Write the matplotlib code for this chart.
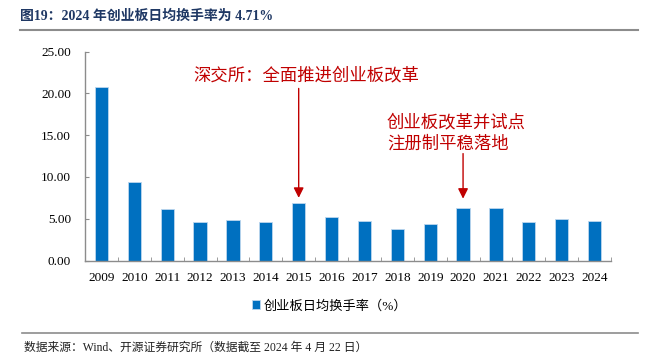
import matplotlib
matplotlib.use("Agg")
import matplotlib.pyplot as plt
from matplotlib.lines import Line2D

years = ["2009", "2010", "2011", "2012", "2013", "2014", "2015", "2016",
         "2017", "2018", "2019", "2020", "2021", "2022", "2023", "2024"]
turnover = [20.80, 9.44, 6.16, 4.56, 4.84, 4.64, 6.92, 5.18,
            4.76, 3.80, 4.32, 6.24, 6.32, 4.64, 4.92, 4.71]
yticks = [0, 5, 10, 15, 20, 25]
series_name = "创业板日均换手率（%）"
title = "图19：2024 年创业板日均换手率为 4.71%"
note1 = "深交所：全面推进创业板改革"
note2 = "创业板改革并试点\n注册制平稳落地"
source = "数据来源：Wind、开源证券研究所（数据截至 2024 年 4 月 22 日）"

FONT = ["Liberation Serif", "Noto Sans CJK SC"]
plt.rcParams["font.family"] = FONT

W, H = 654, 362
fig = plt.figure(figsize=(W / 100, H / 100), dpi=100)

def fx(px):
    return px / W

def fy(py):
    return 1 - py / H

ax = fig.add_axes([fx(85), fy(260.5), fx(611) - fx(85), fy(51.7) - fy(260.5)])

x = list(range(len(years)))
ax.bar(x, turnover, width=0.4, color="#0070C0", edgecolor="#BDD7EE",
       linewidth=0.6, label=series_name, zorder=2)

ax.set_xlim(-0.5, len(years) - 0.5)
ax.set_ylim(0, 25)
ax.set_yticks(yticks)
ax.set_yticklabels([f"{v:.2f}" for v in yticks], fontsize=9.5)
ax.set_xticks(x)
ax.set_xticklabels(years, fontsize=9.5)
ax.set_xticks([i - 0.5 for i in range(len(years) + 1)], minor=True)

for s in ["top", "right"]:
    ax.spines[s].set_visible(False)
for s in ["left", "bottom"]:
    ax.spines[s].set_color("#8C8C8C")
    ax.spines[s].set_linewidth(1.0)

ax.tick_params(axis="y", direction="in", length=3, color="#8C8C8C", pad=10)
ax.tick_params(axis="x", which="major", length=0, pad=8)
ax.tick_params(axis="x", which="minor", direction="in", length=3, color="#8C8C8C")

red = "#C00000"
ax.annotate("", xy=(6, 7.5), xytext=(6, 20.6),
            arrowprops=dict(arrowstyle="-|>,head_length=0.6,head_width=0.3",
                            color=red, lw=1.0, shrinkA=0, shrinkB=0))
ax.annotate("", xy=(11, 7.4), xytext=(11, 12.8),
            arrowprops=dict(arrowstyle="-|>,head_length=0.6,head_width=0.3",
                            color=red, lw=1.0, shrinkA=0, shrinkB=0))

fig.text(fx(193), fy(75), note1, color=red, fontsize=12.5, va="center", ha="left",
         family=["Noto Sans CJK SC"])
fig.text(fx(387), fy(133), note2, color=red, fontsize=12.5, va="center", ha="left",
         family=["Noto Sans CJK SC"], linespacing=1.25)

# title and separator lines
fig.text(fx(20), fy(16), title, color="#1F3864", fontsize=10, fontweight="bold",
         va="center", ha="left")
fig.add_artist(Line2D([fx(20), fx(638)], [fy(30), fy(30)], color="#8C8C8C", lw=1.5))
fig.add_artist(Line2D([fx(22), fx(638)], [fy(332.5), fy(332.5)], color="#8C8C8C", lw=1.2))
fig.text(fx(24), fy(348), source, color="#222222", fontsize=8.5, va="center", ha="left")

leg = fig.legend(loc="center", bbox_to_anchor=(fx(330), fy(306)), frameon=False,
                 fontsize=9.5, handlelength=0.6, handleheight=0.6, handletextpad=0.3,
                 prop={"family": FONT, "size": 9.5})

fig.savefig("out.png", dpi=100)
